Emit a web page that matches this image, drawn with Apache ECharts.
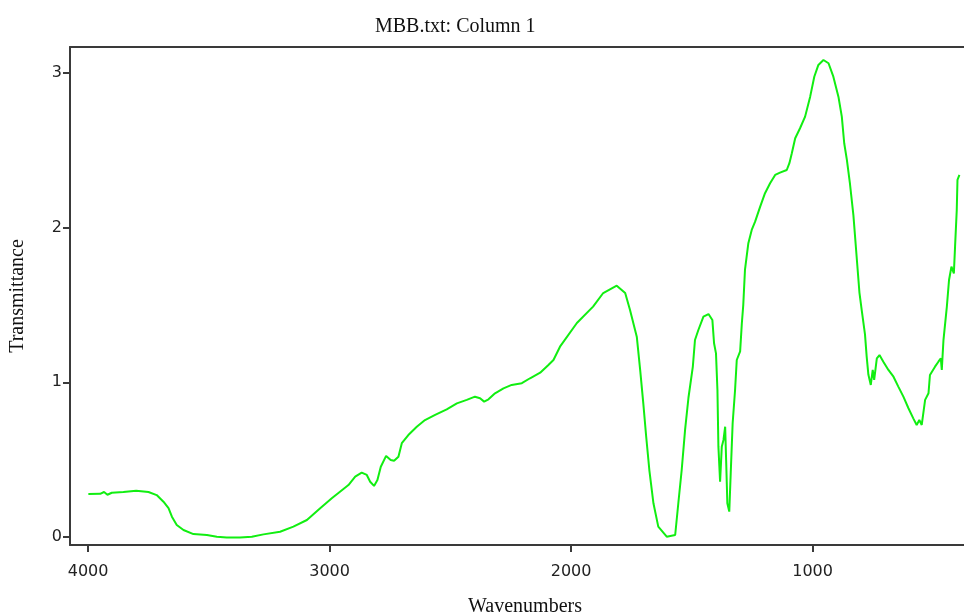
<!DOCTYPE html>
<html>
<head>
<meta charset="utf-8">
<script src="https://cdn.jsdelivr.net/npm/echarts@6/dist/echarts.min.js"></script>
<style>
html,body{margin:0;padding:0;background:#fff;}
#chart{width:964px;height:614px;}
</style>
</head>
<body>
<div id="chart"></div>
<script>
// Wavenumbers (cm-1)
const wavenumbers = [
  3999,3950,3934,3920,3902,3854,3801,3750,3716,3688,3667,3653,3633,3605,3564,3508,3467,3426,3371,3322,
  3274,3205,3150,3094,3039,2991,2957,2922,2894,2867,2846,2832,2816,2802,2788,2766,2747,2733,2715,2701,
  2674,2639,2605,2563,2515,2473,2432,2398,2377,2360,2342,2315,2280,2246,2204,2170,2128,2094,2073,2046,
  1976,1909,1867,1811,1776,1756,1728,1714,1701,1689,1676,1659,1639,1604,1569,1556,1542,1528,1514,1496,
  1487,1473,1452,1431,1415,1408,1400,1394,1390,1383,1376,1369,1362,1358,1353,1345,1339,1331,1321,1314,
  1300,1293,1287,1280,1266,1252,1238,1217,1197,1176,1155,1135,1107,1096,1086,1072,1052,1031,1010,993,
  976,955,934,914,893,879,869,858,845,831,820,806,796,783,776,769,759,751,745,734,
  723,707,686,665,645,624,603,583,569,558,548,534,520,514,493,479,469,465,458,444,
  435,425,415,410,403,400,392
];
// Transmittance values
const transmittance = [
  0.278,0.279,0.291,0.273,0.286,0.291,0.299,0.291,0.271,0.228,0.186,0.131,0.078,0.045,0.019,0.013,0.002,-0.004,-0.004,0.002,
  0.017,0.034,0.067,0.110,0.186,0.250,0.293,0.336,0.390,0.416,0.401,0.357,0.330,0.368,0.454,0.524,0.498,0.493,0.519,0.606,
  0.659,0.713,0.756,0.789,0.825,0.864,0.886,0.907,0.897,0.875,0.890,0.929,0.961,0.983,0.994,1.026,1.062,1.112,1.144,1.230,
  1.383,1.489,1.577,1.624,1.577,1.467,1.295,1.080,0.864,0.648,0.433,0.218,0.067,0.002,0.013,0.218,0.433,0.692,0.900,1.100,
  1.273,1.338,1.424,1.441,1.403,1.252,1.187,0.950,0.584,0.357,0.584,0.627,0.713,0.498,0.218,0.164,0.412,0.735,0.950,1.144,
  1.200,1.380,1.500,1.726,1.899,1.985,2.038,2.135,2.222,2.286,2.340,2.355,2.372,2.416,2.480,2.577,2.642,2.717,2.846,2.975,
  3.051,3.083,3.062,2.975,2.846,2.717,2.545,2.437,2.280,2.080,1.860,1.580,1.460,1.310,1.166,1.050,0.983,1.080,1.015,1.155,
  1.176,1.133,1.080,1.036,0.972,0.907,0.832,0.767,0.724,0.756,0.724,0.886,0.929,1.047,1.101,1.133,1.155,1.080,1.273,1.489,
  1.661,1.747,1.704,1.877,2.114,2.308,2.340
];
const xTicks = [4000, 3000, 2000, 1000];
const yTicks = [0, 1, 2, 3];

const points = wavenumbers.map((w, i) => [w, transmittance[i]]);

const axisColor = '#3a3a3a';
const chart = echarts.init(document.getElementById('chart'), null, {renderer: 'canvas'});
chart.setOption({
  animation: false,
  backgroundColor: '#ffffff',
  title: {
    text: 'MBB.txt: Column 1',
    left: 370,
    top: 12,
    textStyle: {fontFamily: 'Liberation Serif', fontSize: 20, fontWeight: 'normal', color: '#111'}
  },
  grid: {left: 70, right: 0, top: 47, bottom: 69, containLabel: false, outerBoundsMode: 'none'},
  xAxis: [{
    type: 'value',
    inverse: true,
    min: 373,
    max: 4075,
    name: 'Wavenumbers',
    nameLocation: 'middle',
    nameGap: 52,
    nameTextStyle: {fontFamily: 'Liberation Serif', fontSize: 20, color: '#111', padding: [0, 0, 0, 16]},
    axisLine: {show: true, onZero: false, lineStyle: {color: axisColor, width: 2}},
    axisTick: {show: true, length: 7, lineStyle: {color: axisColor, width: 2}, customValues: xTicks},
    axisLabel: {fontFamily: 'DejaVu Sans', fontSize: 16, color: '#222', margin: 19, customValues: xTicks,
      formatter: v => String(v)},
    splitLine: {show: false}
  }, {
    type: 'value',
    position: 'top',
    inverse: true,
    min: 373,
    max: 4075,
    axisLine: {show: true, onZero: false, lineStyle: {color: axisColor, width: 2}},
    axisTick: {show: false},
    axisLabel: {show: false},
    splitLine: {show: false}
  }],
  yAxis: {
    type: 'value',
    min: -0.0517,
    max: 3.167,
    name: 'Transmittance',
    nameLocation: 'middle',
    nameGap: 42,
    nameRotate: 90,
    nameTextStyle: {fontFamily: 'Liberation Serif', fontSize: 20, color: '#111'},
    axisLine: {show: true, onZero: false, lineStyle: {color: axisColor, width: 2}},
    axisTick: {show: true, length: 7, lineStyle: {color: axisColor, width: 2}, customValues: yTicks},
    axisLabel: {fontFamily: 'DejaVu Sans', fontSize: 16, color: '#222', margin: 8, customValues: yTicks,
      formatter: v => String(v)},
    splitLine: {show: false}
  },
  series: [{
    type: 'line',
    xAxisIndex: 0,
    data: points,
    showSymbol: false,
    smooth: false,
    lineStyle: {color: '#11ee11', width: 2},
    clip: true
  }]
});
</script>
</body>
</html>
